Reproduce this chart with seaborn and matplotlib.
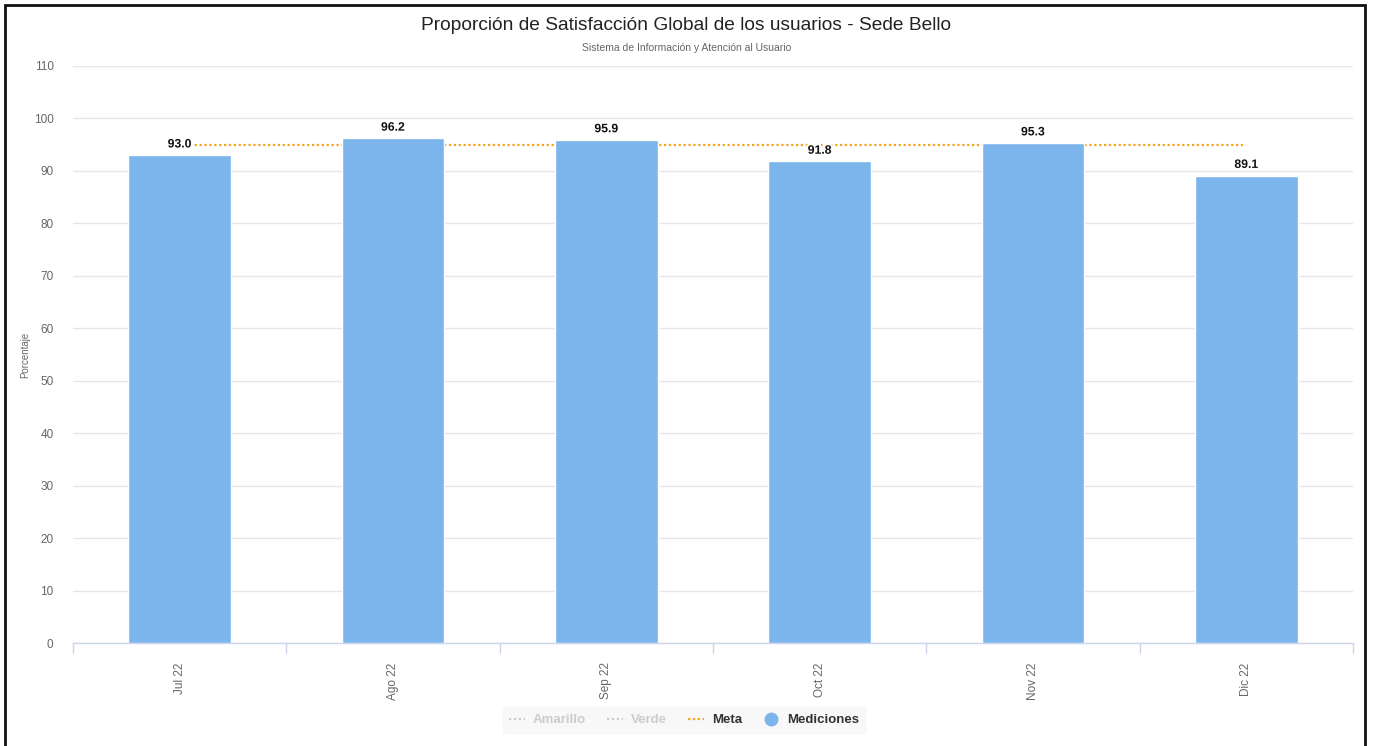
import matplotlib
matplotlib.use("Agg")
import matplotlib.pyplot as plt
import matplotlib.patheffects as pe
from matplotlib.lines import Line2D
from matplotlib.patches import Rectangle
import seaborn as sns
import pandas as pd

meses = ["Jul 22", "Ago 22", "Sep 22", "Oct 22", "Nov 22", "Dic 22"]
mediciones = [93.0, 96.2, 95.9, 91.8, 95.3, 89.1]
meta = [95, 95, 95, 95, 95, 95]
yticks = [0, 10, 20, 30, 40, 50, 60, 70, 80, 90, 100, 110]

sns.set_theme(style="white")
plt.rcParams['font.family'] = ['Liberation Sans', 'DejaVu Sans']

fig = plt.figure(figsize=(13.73, 7.46), dpi=100)
ax = fig.add_axes([73/1373, 1-643/746, (1353-73)/1373, (643-66)/746])

df = pd.DataFrame({"Mes": meses, "Valor": mediciones})
sns.barplot(data=df, x="Mes", y="Valor", color="#7cb5ec", width=0.48,
            saturation=1, ax=ax, zorder=3)

# Meta line (behind bars)
ax.plot(range(len(meses)), meta, linestyle=(0, (1, 1.2)), color="#f7a21b",
        linewidth=1.6, zorder=2)

for i, v in enumerate(mediciones):
    ax.text(i, v + 0.9, f"{v:.1f}", ha="center", va="bottom", fontsize=8.8,
            fontweight="bold", color="#111111", zorder=5,
            path_effects=[pe.withStroke(linewidth=3, foreground="white")])

ax.set_xlim(-0.5, len(meses) - 0.5)
ax.set_ylim(0, 110)
ax.set_yticks(yticks)
ax.set_yticklabels([str(t) for t in yticks], fontsize=8.5, color="#666666")
ax.tick_params(axis="y", length=0, pad=14)
ax.yaxis.grid(True, color="#e6e6e6", linewidth=1, zorder=0)
ax.set_axisbelow(True)

ax.set_xticks(range(len(meses)))
ax.set_xticklabels(meses, rotation=90, fontsize=8.5, color="#666666")
ax.tick_params(axis="x", length=0, pad=14)
# category boundary ticks
for b in [x - 0.5 for x in range(len(meses) + 1)]:
    ax.plot([b, b], [0, -0.017], transform=ax.get_xaxis_transform(),
            color="#ccd6eb", linewidth=1, clip_on=False)

for s in ["top", "right", "left"]:
    ax.spines[s].set_visible(False)
ax.spines["bottom"].set_color("#ccd6eb")
ax.spines["bottom"].set_linewidth(1)

ax.set_xlabel("")
ax.set_ylabel("")
fig.text(25/1373, 1-355/746, "Porcentaje", rotation=90, ha="center", va="center",
         fontsize=7, color="#666666")

fig.text(0.5, 1-25/746, "Proporción de Satisfacción Global de los usuarios - Sede Bello",
         ha="center", va="center", fontsize=13.8, color="#222222")
fig.text(0.5, 1-48/746, "Sistema de Información y Atención al Usuario",
         ha="center", va="center", fontsize=7.5, color="#666666")

# Legend
handles = [
    Line2D([0], [0], color="#cccccc", linestyle=(0, (1, 1.2)), linewidth=1.6),
    Line2D([0], [0], color="#cccccc", linestyle=(0, (1, 1.2)), linewidth=1.6),
    Line2D([0], [0], color="#f7a21b", linestyle=(0, (1, 1.2)), linewidth=1.6),
    Line2D([0], [0], color="#7cb5ec", marker="o", linestyle="None", markersize=9),
]
labels = ["Amarillo", "Verde", "Meta", "Mediciones"]
leg = fig.legend(handles, labels, loc="center", bbox_to_anchor=(684/1373, 1-720/746),
                 ncol=4, frameon=True, fontsize=9.5, handlelength=1.2,
                 columnspacing=1.6, handletextpad=0.6, borderpad=0.5)
leg.get_frame().set_facecolor("#f7f7f7")
leg.get_frame().set_edgecolor("#f7f7f7")
leg.get_frame().set_boxstyle("square", pad=0)
for t, c in zip(leg.get_texts(), ["#cccccc", "#cccccc", "#333333", "#333333"]):
    t.set_color(c)
    t.set_fontweight("bold")

# figure frame
fig.patches.append(Rectangle((5/1373, -0.01), (1365-5)/1373, (746-5)/746 + 0.01,
                             transform=fig.transFigure, fill=False,
                             edgecolor="#111111", linewidth=2))

fig.savefig("out.png", dpi=100, facecolor="white")
